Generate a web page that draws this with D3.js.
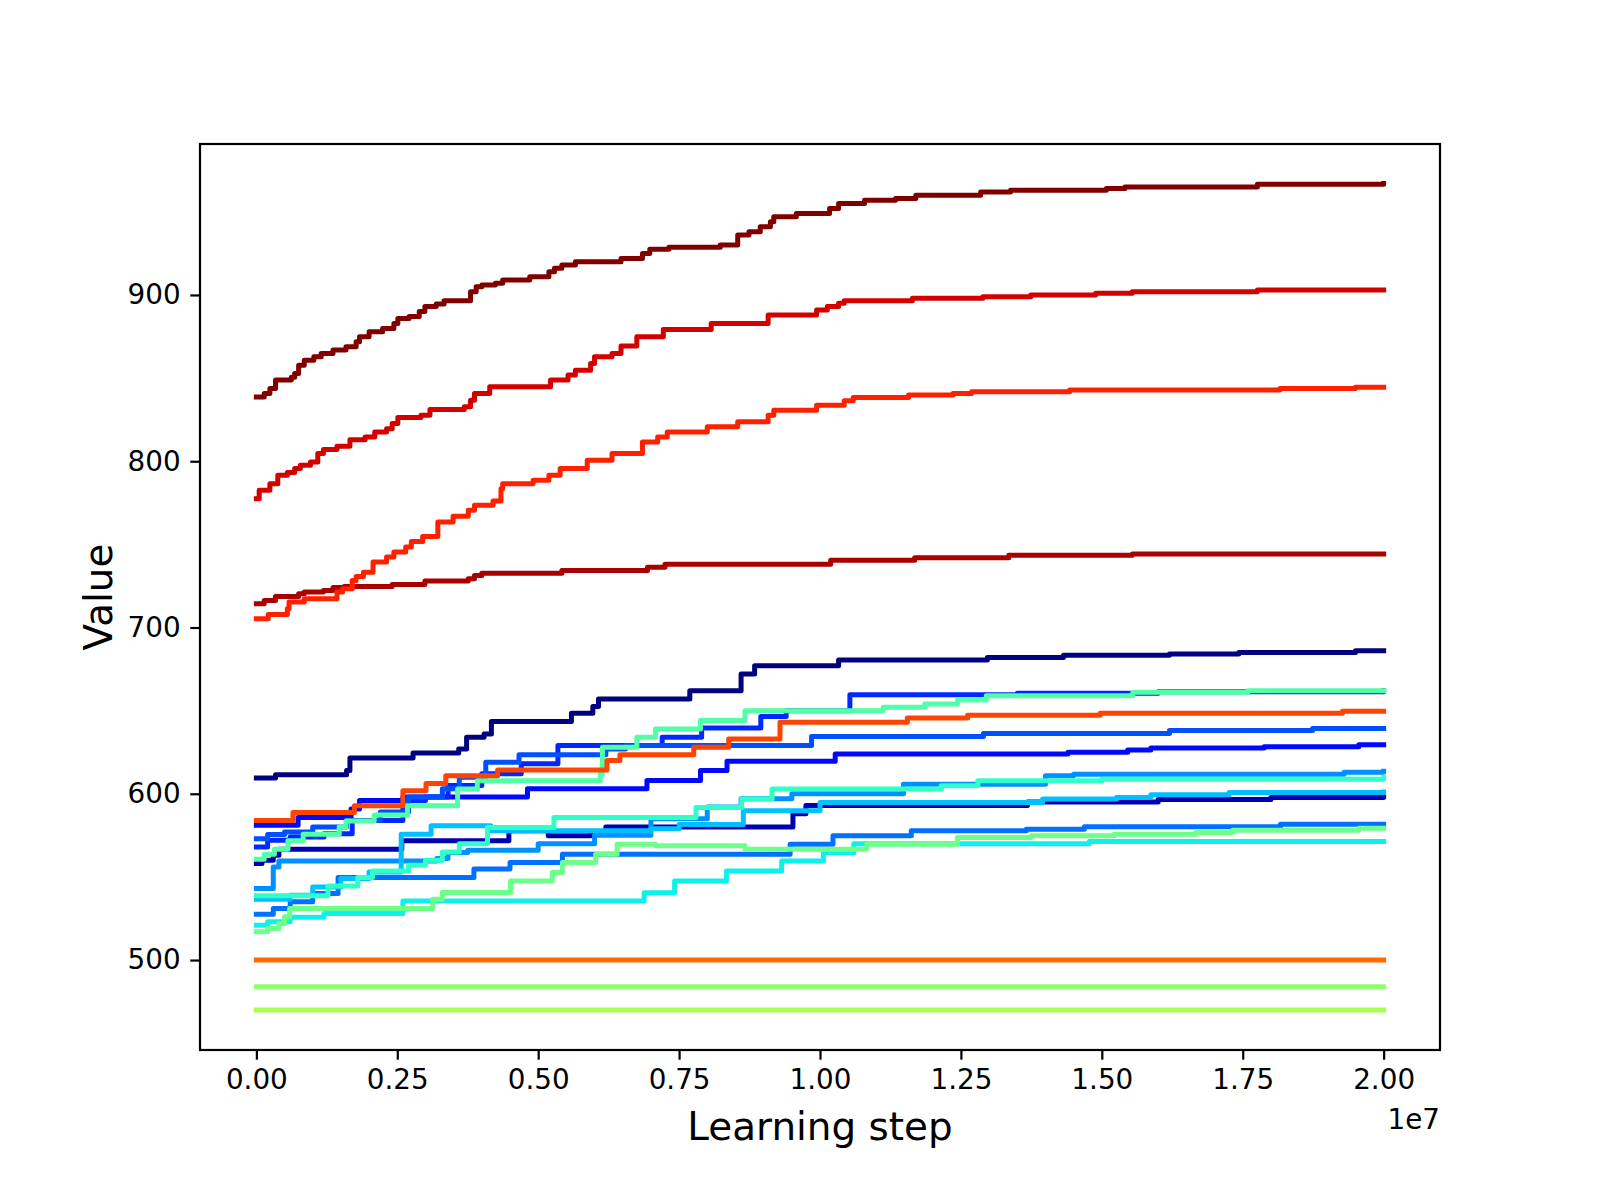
<!DOCTYPE html>
<html>
<head>
<meta charset="utf-8">
<script src="https://d3js.org/d3.v7.min.js"></script>
<style>
  body { margin: 0; background: #fff; }
  text { font-family: "DejaVu Sans", sans-serif; fill: #000; }
  .axis path { display: none; }
  .axis line { stroke: #000; stroke-width: 2.2; }
  .axis text { font-size: 27.8px; }
  .run { fill: none; stroke-width: 5; stroke-linejoin: round; stroke-linecap: square; }
</style>
</head>
<body>
<script>
// learning step in units of 1e7
var maroon = [[0,838.7],[0.014,840.8],[0.024,843.8],[0.034,848.8],[0.062,850.5],[0.068,852.8],[0.075,857.8],[0.085,860.8],[0.102,862.8],[0.115,864.8],[0.136,866.9],[0.159,868.9],[0.177,871.9],[0.183,874.9],[0.2,877.9],[0.224,879.9],[0.244,882.9],[0.251,885.9],[0.271,887],[0.289,890],[0.299,893],[0.319,894.6],[0.333,896.5],[0.38,902],[0.39,905],[0.4,906],[0.424,907],[0.437,909],[0.485,911],[0.519,914],[0.529,916],[0.542,918],[0.566,920],[0.647,922],[0.685,925],[0.698,927.5],[0.732,928.7],[0.823,930],[0.854,936],[0.874,938],[0.894,941],[0.912,944],[0.918,947],[0.958,949],[1.017,952],[1.033,955],[1.079,957],[1.134,958],[1.17,960],[1.285,961.9],[1.338,963],[1.508,964],[1.541,965],[1.776,966.6],[2.0,967]];
var red = [[0,777.5],[0.005,782.5],[0.024,786.5],[0.038,791.6],[0.055,793.2],[0.068,795.6],[0.078,797.6],[0.096,799.6],[0.109,804.6],[0.119,807],[0.143,809],[0.166,813],[0.193,814.6],[0.21,817.6],[0.231,819.6],[0.241,822.7],[0.251,826.3],[0.292,827.7],[0.308,831.1],[0.369,832.7],[0.38,836.7],[0.387,840.8],[0.414,844.8],[0.522,848.8],[0.553,851.8],[0.566,854.8],[0.593,858.8],[0.6,862.8],[0.631,864.8],[0.647,869.3],[0.675,874.9],[0.722,879.3],[0.807,882.9],[0.908,888],[0.994,891],[1.013,893],[1.033,895],[1.043,896.6],[1.164,898],[1.289,899],[1.374,900],[1.489,901],[1.554,902],[1.776,903],[2.0,903]];
var brightRed = [[0,705.2],[0.021,707.8],[0.055,711.3],[0.058,715.3],[0.085,717.3],[0.143,721.3],[0.153,723.3],[0.17,728.3],[0.177,730.7],[0.19,733.3],[0.207,739.4],[0.231,742.4],[0.244,745.4],[0.265,748.4],[0.275,751.8],[0.295,754.8],[0.322,763.4],[0.349,766.9],[0.376,770.5],[0.387,773.5],[0.42,776.1],[0.434,783.5],[0.437,786.5],[0.491,788.6],[0.519,791.6],[0.539,795.6],[0.587,800.6],[0.631,804.6],[0.685,811.6],[0.712,814.6],[0.729,817.6],[0.8,820.7],[0.854,823.7],[0.908,827.7],[0.918,830.7],[0.994,833.7],[1.043,836.4],[1.059,838.4],[1.157,839.8],[1.236,840.8],[1.269,841.8],[1.443,842.8],[1.816,843.8],[1.95,844.5],[2.0,844.5]];
var darkRed = [[0,714.3],[0.014,716.3],[0.034,718.7],[0.075,720.3],[0.085,721.3],[0.119,722.3],[0.136,724],[0.156,724.7],[0.241,725.9],[0.299,727.9],[0.376,729.3],[0.387,731.3],[0.4,732.7],[0.542,734.3],[0.694,736.3],[0.725,738],[1.019,740.4],[1.168,742],[1.335,743.4],[1.554,744.2],[2.0,744.2]];
var orangeRed = [[0,584],[0.065,588.8],[0.174,592.8],[0.26,601.8],[0.301,606.2],[0.336,610.8],[0.428,614.3],[0.622,620],[0.645,623.5],[0.776,628],[0.838,633],[0.929,643],[1.155,645.6],[1.262,647.2],[1.497,648.4],[1.927,649.6],[2.0,649.6]];
var navy = [[0,609.5],[0.034,611.5],[0.16,614],[0.166,621.5],[0.278,624.5],[0.359,627],[0.373,634],[0.404,636],[0.417,643.5],[0.559,648.5],[0.597,652.5],[0.607,657],[0.769,662],[0.86,672],[0.884,677],[1.033,680.5],[1.297,682],[1.432,683.3],[1.62,684],[1.743,685],[1.95,686],[2.0,686]];
var darkBlue = [[0,558],[0.01,560],[0.03,563],[0.04,566.7],[0.258,571.7],[0.448,577.7],[0.518,574.7],[0.593,577],[0.62,580],[0.952,588],[0.975,593],[1.368,595],[1.6,596.5],[1.8,597.8],[2.0,598]];
var blue628 = [[0,581],[0.074,585.7],[0.168,590.8],[0.183,596],[0.26,598],[0.481,603],[0.693,608],[0.788,614],[0.835,619.5],[1.027,624],[1.44,625],[1.546,626.3],[1.587,627.5],[1.788,628.3],[1.956,629.5],[2.0,629.5]];
var blue662 = [[0,568],[0.02,572],[0.06,574],[0.12,576],[0.17,584],[0.26,596],[0.3,598],[0.34,605],[0.4,612],[0.47,618],[0.535,629],[0.72,634],[0.79,639.5],[0.895,646.5],[0.94,650],[1.053,659.6],[1.35,660.5],[1.6,661.3],[2.0,662]];
var blue638 = [[0,573],[0.02,575.5],[0.05,577],[0.1,580],[0.16,584],[0.22,589],[0.27,598],[0.33,603],[0.36,610],[0.407,619],[0.466,623.5],[0.62,627],[0.655,629],[0.985,634.5],[1.29,636.3],[1.62,638],[1.874,639.3],[2.0,639.3]];
var blue581 = [[0,527.5],[0.03,531],[0.06,535],[0.1,540],[0.145,549.7],[0.386,554.7],[0.45,558.7],[0.543,563.7],[0.947,569.7],[1.023,574.7],[1.162,577.7],[1.366,578.7],[1.469,580.1],[1.817,581.7],[2.0,581.7]];
var sky613 = [[0,543],[0.03,556],[0.04,559.6],[0.32,561],[0.34,564.7],[0.375,566],[0.5,570],[0.6,575],[0.7,585],[0.8,592],[0.86,597],[0.95,600],[1.148,605.8],[1.4,610.8],[1.45,611.8],[1.93,613],[2.0,613.5]];
var light601 = [[0,536.6],[0.06,539],[0.1,544],[0.15,549],[0.2,553],[0.257,575.7],[0.31,580.7],[0.416,577.7],[0.7,579],[0.75,581.5],[0.864,589.8],[1.0,594.8],[1.395,596.8],[1.526,597.8],[1.587,599.4],[1.726,600.8],[2.0,601]];
var cyan571 = [[0,521],[0.02,523],[0.06,525.8],[0.12,528],[0.26,535.5],[0.688,540.5],[0.742,547.6],[0.834,553.6],[0.932,559.6],[1.006,564.6],[1.06,570],[1.478,571.3],[2.0,571.3]];
var teal610 = [[0,538.6],[0.127,544.6],[0.18,549.6],[0.206,553.6],[0.27,557],[0.3,560],[0.33,565],[0.36,570],[0.41,579.7],[0.528,585.7],[0.78,591.8],[0.861,596.8],[0.915,602.8],[1.215,604.8],[1.28,607.8],[1.5,608.8],[2.0,609.8]];
var green662 = [[0,560.6],[0.014,563.7],[0.032,566.7],[0.056,571.7],[0.083,575.7],[0.147,580],[0.159,583.7],[0.209,587.3],[0.268,592.8],[0.357,602.8],[0.392,607.8],[0.61,611.9],[0.614,628],[0.675,634],[0.708,639],[0.788,644],[0.867,650],[1.112,652],[1.186,654],[1.244,656.4],[1.295,659],[1.555,661],[1.759,662],[2.0,662]];
var green578 = [[0,517],[0.02,519],[0.04,522],[0.05,526],[0.059,531],[0.313,536.6],[0.33,540.6],[0.451,547.6],[0.525,552.6],[0.543,558.6],[0.602,563.6],[0.64,569.7],[0.708,568.7],[0.867,566.7],[1.083,569.7],[1.244,573.7],[1.375,574.7],[1.522,575.7],[1.667,576.7],[1.732,578.1],[1.956,579.3],[2.0,579.3]];
var flat500 = [[0,500],[2.0,500]];
var flat484 = [[0,484],[2.0,484]];
var flat470 = [[0,470],[2.0,470]];

var runs = [flat500, flat484, flat470, navy, darkBlue, blue628, blue662, blue638, blue581, sky613,
            light601, cyan571, teal610, green662, green578, orangeRed, darkRed, brightRed, red, maroon];
var colours = ['#ff6a00', '#8cff6a', '#aaff4d', '#000080', '#0000b0', '#0008ff', '#0028ff', '#0050ff', '#0070ff', '#0090ff',
               '#00c0ff', '#0cf2eb', '#30ffc7', '#50ffa6', '#6dff8a', '#ff4300', '#aa0000', '#ff2000', '#d40000', '#800000'];
var xTicks = [0, 0.25, 0.5, 0.75, 1.0, 1.25, 1.5, 1.75, 2.0];
var yTicks = [500, 600, 700, 800, 900];

var plotLeft = 200, plotRight = 1440, plotTop = 144, plotBottom = 1050;

var svg = d3.select('body').append('svg')
    .attr('width', 1600)
    .attr('height', 1200);

var x = d3.scaleLinear().domain([-0.1, 2.1]).range([plotLeft, plotRight]);
var y = d3.scaleLinear().domain([445.9, 990.8]).range([plotBottom, plotTop]);

var line = d3.line()
    .x(function(d) { return x(d[0]); })
    .y(function(d) { return y(d[1]); })
    .curve(d3.curveStepAfter);

svg.selectAll('path.run')
  .data(runs)
  .enter()
  .append('path')
    .attr('class', 'run')
    .attr('stroke', function(d, i) { return colours[i]; })
    .attr('d', line);

// axes
svg.append('g')
    .attr('class', 'axis')
    .attr('transform', 'translate(0,' + plotBottom + ')')
    .call(d3.axisBottom(x).tickValues(xTicks).tickFormat(d3.format('.2f'))
          .tickSizeInner(9.7).tickSizeOuter(0).tickPadding(9.7));

svg.append('g')
    .attr('class', 'axis')
    .attr('transform', 'translate(' + plotLeft + ',0)')
    .call(d3.axisLeft(y).tickValues(yTicks).tickFormat(d3.format('d'))
          .tickSizeInner(9.7).tickSizeOuter(0).tickPadding(9.7));

svg.append('rect')
    .attr('x', plotLeft)
    .attr('y', plotTop)
    .attr('width', plotRight - plotLeft)
    .attr('height', plotBottom - plotTop)
    .attr('fill', 'none')
    .attr('stroke', '#000')
    .attr('stroke-width', 2.2);

// labels
svg.append('text')
    .attr('x', (plotLeft + plotRight) / 2)
    .attr('y', 1140)
    .attr('text-anchor', 'middle')
    .style('font-size', '38.9px')
    .text('Learning step');

svg.append('text')
    .attr('transform', 'translate(112,' + (plotTop + plotBottom) / 2 + ') rotate(-90)')
    .attr('text-anchor', 'middle')
    .style('font-size', '38.9px')
    .text('Value');

svg.append('text')
    .attr('x', plotRight)
    .attr('y', 1129)
    .attr('text-anchor', 'end')
    .style('font-size', '27.8px')
    .text('1e7');
</script>
</body>
</html>
